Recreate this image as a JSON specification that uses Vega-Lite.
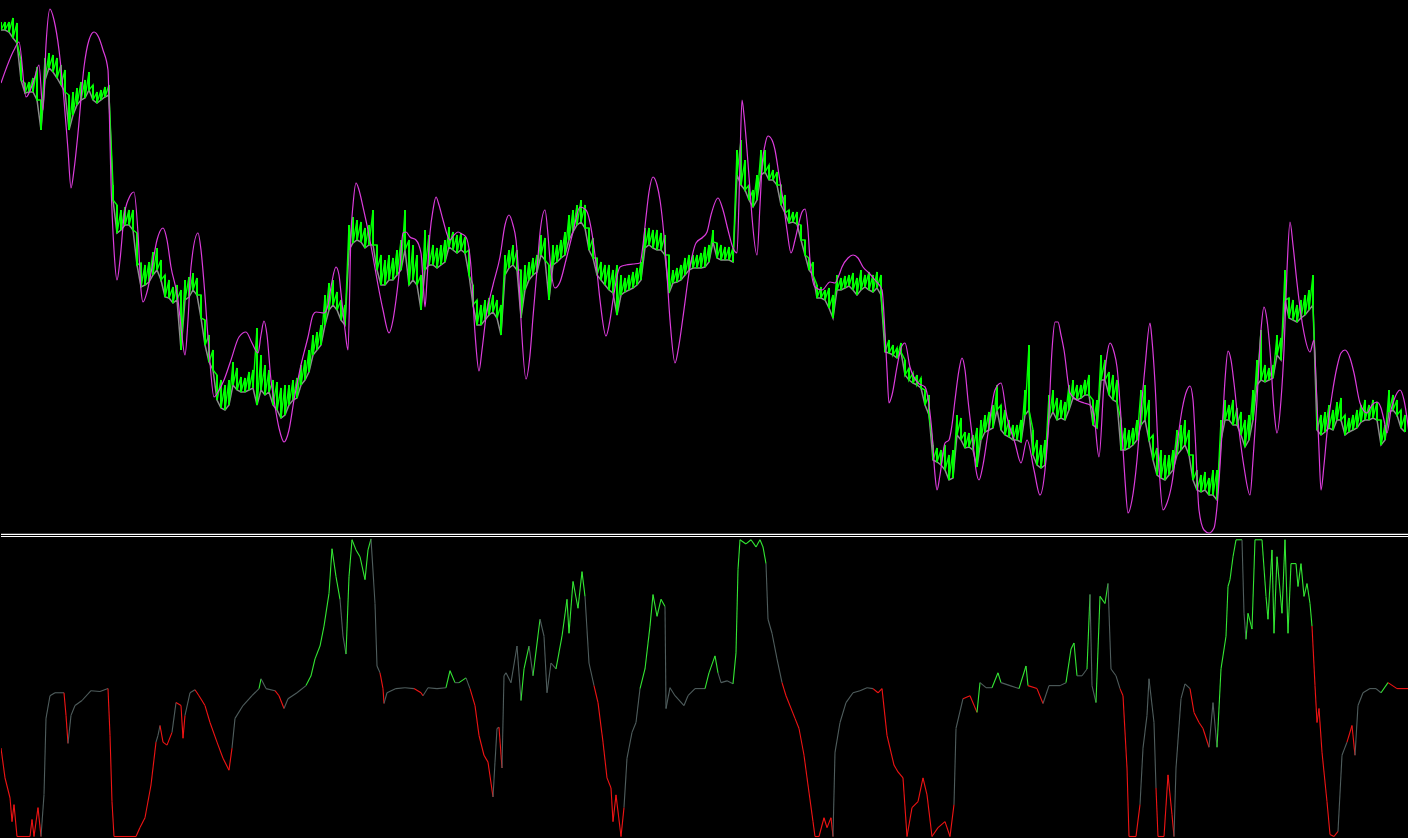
{
"$schema":"https://vega.github.io/schema/vega-lite/v6.json",
"background":"#000000",
"padding":0,
"spacing":0,
"config":{"view":{"stroke":null},"concat":{"spacing":0}},
"datasets":{
"price":[
{"t":0,"hi":516,"lo":508},{"t":4,"hi":516,"lo":508},{"t":8,"hi":516,"lo":506},{"t":12,"hi":520,"lo":500},{"t":16,"hi":515,"lo":495},{"t":20,"hi":478,"lo":458},{"t":24,"hi":455,"lo":445},{"t":28,"hi":456,"lo":446},{"t":32,"hi":460,"lo":446},{"t":36,"hi":471,"lo":438},{"t":40,"hi":438,"lo":408},{"t":44,"hi":480,"lo":458},{"t":48,"hi":485,"lo":470},{"t":52,"hi":483,"lo":466},{"t":56,"hi":480,"lo":460},{"t":60,"hi":473,"lo":453},{"t":64,"hi":468,"lo":446},{"t":68,"hi":443,"lo":408},{"t":72,"hi":446,"lo":423},{"t":76,"hi":450,"lo":433},{"t":80,"hi":456,"lo":438},{"t":84,"hi":458,"lo":440},{"t":88,"hi":466,"lo":448},{"t":92,"hi":453,"lo":438},{"t":96,"hi":446,"lo":435},{"t":100,"hi":448,"lo":438},{"t":104,"hi":451,"lo":441},{"t":108,"hi":453,"lo":443},
{"t":112,"hi":353,"lo":338},{"t":116,"hi":333,"lo":305},{"t":120,"hi":328,"lo":308},{"t":124,"hi":331,"lo":313},{"t":128,"hi":328,"lo":313},{"t":132,"hi":328,"lo":308},{"t":136,"hi":305,"lo":273},{"t":140,"hi":275,"lo":251},{"t":144,"hi":273,"lo":253},{"t":148,"hi":276,"lo":256},{"t":152,"hi":286,"lo":263},{"t":156,"hi":290,"lo":268},{"t":160,"hi":278,"lo":258},{"t":164,"hi":263,"lo":241},{"t":168,"hi":258,"lo":240},{"t":172,"hi":251,"lo":235},{"t":176,"hi":253,"lo":238},{"t":180,"hi":248,"lo":188},{"t":184,"hi":258,"lo":238},{"t":188,"hi":261,"lo":241},{"t":192,"hi":265,"lo":248},{"t":196,"hi":260,"lo":243},{"t":200,"hi":243,"lo":220},{"t":204,"hi":218,"lo":193},{"t":208,"hi":203,"lo":176},{"t":212,"hi":188,"lo":168},{"t":216,"hi":163,"lo":138},{"t":220,"hi":158,"lo":130},{"t":224,"hi":153,"lo":128},{"t":228,"hi":158,"lo":133},{"t":232,"hi":176,"lo":153},{"t":236,"hi":170,"lo":148},{"t":240,"hi":161,"lo":146},{"t":244,"hi":160,"lo":146},{"t":248,"hi":166,"lo":148},{"t":252,"hi":168,"lo":150},{"t":256,"hi":210,"lo":133},{"t":260,"hi":183,"lo":148},{"t":264,"hi":173,"lo":143},{"t":268,"hi":168,"lo":146},{"t":272,"hi":158,"lo":133},{"t":276,"hi":156,"lo":128},{"t":280,"hi":150,"lo":120},{"t":284,"hi":153,"lo":123},{"t":288,"hi":153,"lo":133},{"t":292,"hi":158,"lo":138},{"t":296,"hi":160,"lo":140},{"t":300,"hi":173,"lo":153},{"t":304,"hi":178,"lo":158},{"t":308,"hi":188,"lo":166},{"t":312,"hi":203,"lo":183},{"t":316,"hi":206,"lo":188},{"t":320,"hi":213,"lo":193},{"t":324,"hi":243,"lo":213},{"t":328,"hi":255,"lo":228},{"t":332,"hi":258,"lo":233},{"t":336,"hi":246,"lo":228},{"t":340,"hi":238,"lo":218},{"t":344,"hi":233,"lo":213},
{"t":348,"hi":313,"lo":288},{"t":352,"hi":321,"lo":295},{"t":356,"hi":318,"lo":298},{"t":360,"hi":316,"lo":296},{"t":364,"hi":310,"lo":290},{"t":368,"hi":313,"lo":293},{"t":372,"hi":328,"lo":293},{"t":376,"hi":293,"lo":268},{"t":380,"hi":283,"lo":253},{"t":384,"hi":278,"lo":253},{"t":388,"hi":283,"lo":258},{"t":392,"hi":280,"lo":258},{"t":396,"hi":288,"lo":263},{"t":400,"hi":298,"lo":268},{"t":404,"hi":328,"lo":288},{"t":408,"hi":298,"lo":253},{"t":412,"hi":293,"lo":258},{"t":416,"hi":283,"lo":253},{"t":420,"hi":263,"lo":228},{"t":424,"hi":308,"lo":268},{"t":428,"hi":303,"lo":273},{"t":432,"hi":293,"lo":273},{"t":436,"hi":290,"lo":270},{"t":440,"hi":293,"lo":273},{"t":444,"hi":298,"lo":276},{"t":448,"hi":311,"lo":291},{"t":452,"hi":306,"lo":288},{"t":456,"hi":303,"lo":285},{"t":460,"hi":305,"lo":288},{"t":464,"hi":301,"lo":285},{"t":468,"hi":288,"lo":263},{"t":472,"hi":253,"lo":233},{"t":476,"hi":238,"lo":213},{"t":480,"hi":233,"lo":213},{"t":484,"hi":238,"lo":218},{"t":488,"hi":240,"lo":223},{"t":492,"hi":243,"lo":226},{"t":496,"hi":238,"lo":220},{"t":500,"hi":233,"lo":203},{"t":504,"hi":283,"lo":263},{"t":508,"hi":288,"lo":270},{"t":512,"hi":293,"lo":273},{"t":516,"hi":288,"lo":268},{"t":520,"hi":268,"lo":220},{"t":524,"hi":273,"lo":248},{"t":528,"hi":276,"lo":258},{"t":532,"hi":280,"lo":263},{"t":536,"hi":283,"lo":266},{"t":540,"hi":303,"lo":283},{"t":544,"hi":300,"lo":278},{"t":548,"hi":273,"lo":238},{"t":552,"hi":293,"lo":273},{"t":556,"hi":293,"lo":276},{"t":560,"hi":298,"lo":280},{"t":564,"hi":306,"lo":283},{"t":568,"hi":323,"lo":298},{"t":572,"hi":328,"lo":306},{"t":576,"hi":333,"lo":313},{"t":580,"hi":338,"lo":316},{"t":584,"hi":333,"lo":310},{"t":588,"hi":310,"lo":288},{"t":592,"hi":300,"lo":280},{"t":596,"hi":280,"lo":263},{"t":600,"hi":276,"lo":258},{"t":604,"hi":273,"lo":253},{"t":608,"hi":273,"lo":248},{"t":612,"hi":268,"lo":245},{"t":616,"hi":273,"lo":223},{"t":620,"hi":263,"lo":243},{"t":624,"hi":260,"lo":246},{"t":628,"hi":263,"lo":248},{"t":632,"hi":266,"lo":250},{"t":636,"hi":270,"lo":253},{"t":640,"hi":276,"lo":258},{"t":644,"hi":310,"lo":290},{"t":648,"hi":310,"lo":293},{"t":652,"hi":308,"lo":290},{"t":656,"hi":308,"lo":288},{"t":660,"hi":305,"lo":288},{"t":664,"hi":303,"lo":283},{"t":668,"hi":283,"lo":245},{"t":672,"hi":268,"lo":255},{"t":676,"hi":270,"lo":256},{"t":680,"hi":273,"lo":258},{"t":684,"hi":280,"lo":263},{"t":688,"hi":283,"lo":268},{"t":692,"hi":283,"lo":270},{"t":696,"hi":283,"lo":270},{"t":700,"hi":285,"lo":270},
{"t":704,"hi":291,"lo":271},{"t":708,"hi":293,"lo":276},{"t":712,"hi":308,"lo":296},{"t":716,"hi":295,"lo":280},{"t":720,"hi":293,"lo":278},{"t":724,"hi":291,"lo":278},{"t":728,"hi":291,"lo":278},{"t":732,"hi":290,"lo":276},{"t":736,"hi":388,"lo":363},{"t":740,"hi":398,"lo":353},{"t":744,"hi":378,"lo":348},{"t":748,"hi":353,"lo":338},{"t":752,"hi":348,"lo":331},{"t":756,"hi":363,"lo":338},{"t":760,"hi":388,"lo":363},{"t":764,"hi":388,"lo":366},{"t":768,"hi":373,"lo":358},{"t":772,"hi":368,"lo":358},{"t":776,"hi":366,"lo":353},{"t":780,"hi":353,"lo":333},{"t":784,"hi":343,"lo":325},{"t":788,"hi":328,"lo":315},{"t":792,"hi":326,"lo":316},{"t":796,"hi":326,"lo":314},{"t":800,"hi":313,"lo":298},{"t":804,"hi":298,"lo":283},{"t":808,"hi":280,"lo":268},{"t":812,"hi":276,"lo":263},{"t":816,"hi":253,"lo":240},{"t":820,"hi":251,"lo":240},{"t":824,"hi":248,"lo":238},{"t":828,"hi":250,"lo":230},{"t":832,"hi":243,"lo":220},{"t":836,"hi":263,"lo":248},{"t":840,"hi":260,"lo":248},{"t":844,"hi":262,"lo":250},{"t":848,"hi":263,"lo":252},{"t":852,"hi":265,"lo":248},{"t":856,"hi":260,"lo":243},{"t":860,"hi":268,"lo":248},{"t":864,"hi":263,"lo":251},{"t":868,"hi":266,"lo":248},{"t":872,"hi":263,"lo":246},{"t":876,"hi":266,"lo":250},{"t":880,"hi":263,"lo":243},{"t":884,"hi":198,"lo":186},{"t":888,"hi":198,"lo":185},{"t":892,"hi":193,"lo":183},{"t":896,"hi":190,"lo":180},{"t":900,"hi":195,"lo":186},{"t":904,"hi":178,"lo":163},{"t":908,"hi":170,"lo":158},{"t":912,"hi":165,"lo":155},{"t":916,"hi":163,"lo":153},{"t":920,"hi":160,"lo":150},{"t":924,"hi":148,"lo":133},{"t":928,"hi":143,"lo":123},{"t":932,"hi":93,"lo":78},{"t":936,"hi":90,"lo":76},{"t":940,"hi":88,"lo":73},{"t":944,"hi":93,"lo":68},{"t":948,"hi":83,"lo":58},{"t":952,"hi":88,"lo":60},{"t":956,"hi":123,"lo":103},{"t":960,"hi":120,"lo":98},{"t":964,"hi":106,"lo":90},{"t":968,"hi":105,"lo":91},{"t":972,"hi":103,"lo":88},{"t":976,"hi":110,"lo":71},{"t":980,"hi":118,"lo":98},{"t":984,"hi":123,"lo":106},{"t":988,"hi":126,"lo":108},{"t":992,"hi":133,"lo":110},{"t":996,"hi":153,"lo":128},{"t":1000,"hi":133,"lo":108},{"t":1004,"hi":128,"lo":103},{"t":1008,"hi":118,"lo":101},{"t":1012,"hi":113,"lo":98},{"t":1016,"hi":113,"lo":98},{"t":1020,"hi":118,"lo":96},{"t":1024,"hi":148,"lo":123},{"t":1028,"hi":193,"lo":128},{"t":1032,"hi":108,"lo":83},{"t":1036,"hi":98,"lo":73},{"t":1040,"hi":93,"lo":70},{"t":1044,"hi":98,"lo":73},{"t":1048,"hi":143,"lo":118},{"t":1052,"hi":148,"lo":126},
{"t":1056,"hi":140,"lo":118},{"t":1060,"hi":138,"lo":120},{"t":1064,"hi":136,"lo":118},{"t":1068,"hi":153,"lo":128},{"t":1072,"hi":158,"lo":140},{"t":1076,"hi":153,"lo":138},{"t":1080,"hi":153,"lo":140},{"t":1084,"hi":158,"lo":143},{"t":1088,"hi":163,"lo":143},{"t":1092,"hi":138,"lo":113},{"t":1096,"hi":138,"lo":110},{"t":1100,"hi":183,"lo":158},{"t":1104,"hi":178,"lo":158},{"t":1108,"hi":166,"lo":143},{"t":1112,"hi":163,"lo":138},{"t":1116,"hi":158,"lo":136},{"t":1120,"hi":118,"lo":88},{"t":1124,"hi":110,"lo":88},{"t":1128,"hi":108,"lo":90},{"t":1132,"hi":110,"lo":93},{"t":1136,"hi":118,"lo":98},{"t":1140,"hi":148,"lo":113},{"t":1144,"hi":153,"lo":118},{"t":1148,"hi":138,"lo":98},{"t":1152,"hi":103,"lo":78},{"t":1156,"hi":90,"lo":63},{"t":1160,"hi":88,"lo":60},{"t":1164,"hi":83,"lo":58},{"t":1168,"hi":83,"lo":63},{"t":1172,"hi":88,"lo":68},{"t":1176,"hi":108,"lo":83},{"t":1180,"hi":113,"lo":88},{"t":1184,"hi":118,"lo":93},{"t":1188,"hi":108,"lo":83},{"t":1192,"hi":83,"lo":58},{"t":1196,"hi":68,"lo":48},{"t":1200,"hi":63,"lo":46},{"t":1204,"hi":66,"lo":48},{"t":1208,"hi":60,"lo":43},{"t":1212,"hi":68,"lo":43},{"t":1216,"hi":68,"lo":38},{"t":1220,"hi":118,"lo":98},{"t":1224,"hi":138,"lo":118},{"t":1228,"hi":133,"lo":118},{"t":1232,"hi":138,"lo":113},{"t":1236,"hi":130,"lo":113},{"t":1240,"hi":126,"lo":103},{"t":1244,"hi":118,"lo":91},{"t":1248,"hi":123,"lo":98},{"t":1252,"hi":148,"lo":118},{"t":1256,"hi":178,"lo":153},{"t":1260,"hi":208,"lo":158},{"t":1264,"hi":173,"lo":156},{"t":1268,"hi":170,"lo":158},{"t":1272,"hi":173,"lo":160},{"t":1276,"hi":203,"lo":183},{"t":1280,"hi":200,"lo":178},{"t":1284,"hi":268,"lo":238},{"t":1288,"hi":240,"lo":220},{"t":1292,"hi":238,"lo":218},{"t":1296,"hi":233,"lo":216},{"t":1300,"hi":238,"lo":220},{"t":1304,"hi":243,"lo":223},{"t":1308,"hi":248,"lo":228},{"t":1312,"hi":263,"lo":233},{"t":1316,"hi":128,"lo":108},{"t":1320,"hi":123,"lo":103},{"t":1324,"hi":126,"lo":106},{"t":1328,"hi":133,"lo":110},{"t":1332,"hi":128,"lo":108},{"t":1336,"hi":136,"lo":118},{"t":1340,"hi":140,"lo":118},{"t":1344,"hi":123,"lo":103},{"t":1348,"hi":120,"lo":106},{"t":1352,"hi":123,"lo":108},{"t":1356,"hi":128,"lo":110},{"t":1360,"hi":133,"lo":116},{"t":1364,"hi":138,"lo":118},{"t":1368,"hi":133,"lo":118},{"t":1372,"hi":138,"lo":120},{"t":1376,"hi":136,"lo":118},{"t":1380,"hi":118,"lo":93},{"t":1384,"hi":113,"lo":98},{"t":1388,"hi":148,"lo":126},{"t":1392,"hi":143,"lo":128},{"t":1396,"hi":138,"lo":123},{"t":1400,"hi":128,"lo":110},{"t":1404,"hi":123,"lo":106}
],
"mag":[
{"t":0,"m":455},{"t":13,"m":488},{"t":18,"m":496},{"t":25,"m":441},{"t":33,"m":458},{"t":38,"m":473},{"t":42,"m":428},{"t":45,"m":493},{"t":49,"m":529},{"t":53,"m":518},{"t":58,"m":488},{"t":63,"m":438},{"t":67,"m":388},{"t":70,"m":350},{"t":73,"m":368},{"t":77,"m":405},{"t":83,"m":471},{"t":88,"m":498},{"t":93,"m":506},{"t":98,"m":500},{"t":102,"m":488},{"t":107,"m":468},{"t":108,"m":438},{"t":110,"m":355},{"t":113,"m":288},{"t":116,"m":258},{"t":119,"m":278},{"t":123,"m":321},{"t":128,"m":340},{"t":133,"m":346},{"t":137,"m":305},{"t":140,"m":248},{"t":142,"m":236},{"t":146,"m":246},{"t":150,"m":265},{"t":156,"m":298},{"t":162,"m":310},{"t":166,"m":298},{"t":170,"m":271},{"t":177,"m":238},{"t":180,"m":211},{"t":184,"m":183},{"t":187,"m":218},{"t":190,"m":271},{"t":197,"m":305},{"t":200,"m":288},{"t":203,"m":255},{"t":208,"m":188},{"t":213,"m":141},{"t":217,"m":146},{"t":223,"m":158},{"t":230,"m":178},{"t":238,"m":201},{"t":245,"m":206},{"t":251,"m":195},{"t":257,"m":185},{"t":260,"m":203},{"t":263,"m":217},{"t":266,"m":203},{"t":270,"m":158},{"t":273,"m":138},{"t":278,"m":110},{"t":283,"m":96},{"t":288,"m":108},{"t":293,"m":138},{"t":300,"m":173},{"t":307,"m":201},{"t":312,"m":223},{"t":315,"m":226},{"t":323,"m":225},{"t":327,"m":233},{"t":330,"m":251},{"t":335,"m":271},{"t":338,"m":263},{"t":340,"m":245},{"t":344,"m":208},{"t":347,"m":188},{"t":350,"m":305},{"t":352,"m":333},{"t":355,"m":355},{"t":358,"m":348},{"t":362,"m":331},{"t":367,"m":308},{"t":372,"m":281},{"t":377,"m":253},{"t":382,"m":228},{"t":388,"m":205},{"t":392,"m":218},{"t":395,"m":238},{"t":399,"m":273},{"t":402,"m":305},{"t":405,"m":306},{"t":409,"m":301},{"t":415,"m":298},{"t":420,"m":285},{"t":422,"m":258},{"t":424,"m":231},{"t":426,"m":258},{"t":429,"m":305},{"t":432,"m":328},{"t":435,"m":341},{"t":438,"m":333},{"t":442,"m":318},{"t":449,"m":298},{"t":453,"m":303},{"t":457,"m":306},{"t":461,"m":304},{"t":465,"m":301},{"t":470,"m":271},{"t":474,"m":205},{"t":478,"m":167},{"t":481,"m":188},{"t":485,"m":221},{"t":492,"m":253},{"t":499,"m":281},{"t":504,"m":313},{"t":508,"m":323},{"t":512,"m":313},{"t":515,"m":298},{"t":518,"m":258},{"t":520,"m":218},{"t":525,"m":159},{"t":529,"m":183},{"t":532,"m":221},{"t":536,"m":268},{"t":539,"m":305},{"t":544,"m":328},{"t":547,"m":303},{"t":549,"m":278},{"t":554,"m":250},{"t":559,"m":256},{"t":565,"m":278},{"t":572,"m":306},{"t":579,"m":331},{"t":585,"m":328},{"t":592,"m":298},{"t":596,"m":266},{"t":599,"m":238},{"t":605,"m":202},{"t":609,"m":218},{"t":612,"m":238},{"t":619,"m":271},{"t":625,"m":273},{"t":632,"m":274},{"t":639,"m":275},{"t":642,"m":293},{"t":645,"m":321},{"t":648,"m":346},{"t":652,"m":361},{"t":656,"m":353},{"t":659,"m":338},{"t":665,"m":278},{"t":669,"m":218},{"t":674,"m":175},{"t":678,"m":193},{"t":682,"m":221},{"t":689,"m":271},{"t":695,"m":295},{"t":702,"m":301},{"t":706,"m":306},{"t":710,"m":323},{"t":717,"m":340},{"t":722,"m":328},{"t":727,"m":308},{"t":732,"m":290},{"t":736,"m":285},{"t":738,"m":338},{"t":739,"m":378},{"t":741,"m":438},{"t":743,"m":423},{"t":746,"m":388},{"t":749,"m":348},{"t":751,"m":321},{"t":756,"m":283},{"t":759,"m":333},{"t":761,"m":371},{"t":764,"m":393},{"t":767,"m":402},{"t":771,"m":398},{"t":774,"m":388},{"t":778,"m":363},{"t":782,"m":338},{"t":786,"m":308},{"t":790,"m":285},{"t":794,"m":298},{"t":797,"m":311},{"t":801,"m":326},{"t":804,"m":329},{"t":807,"m":308},{"t":809,"m":278},{"t":814,"m":251},{"t":821,"m":248},{"t":829,"m":256},{"t":834,"m":255},{"t":838,"m":263},{"t":841,"m":271},{"t":847,"m":280},{"t":852,"m":283},{"t":857,"m":280},{"t":862,"m":271},{"t":868,"m":265},{"t":874,"m":258},{"t":881,"m":248},{"t":884,"m":205},{"t":886,"m":168},{"t":888,"m":135},{"t":891,"m":143},{"t":896,"m":171},{"t":900,"m":190},{"t":904,"m":195},{"t":909,"m":171},{"t":917,"m":155},{"t":924,"m":151},{"t":928,"m":133},{"t":931,"m":105},{"t":934,"m":63},{"t":936,"m":48},{"t":939,"m":63},{"t":944,"m":95},{"t":948,"m":98},{"t":951,"m":113},{"t":954,"m":138},{"t":958,"m":168},{"t":961,"m":180},{"t":964,"m":168},{"t":967,"m":138},{"t":972,"m":95},{"t":975,"m":68},{"t":978,"m":58},{"t":982,"m":73},{"t":987,"m":105},{"t":994,"m":148},{"t":1000,"m":155},{"t":1006,"m":121},{"t":1014,"m":95},{"t":1020,"m":75},{"t":1026,"m":98},{"t":1033,"m":68},{"t":1039,"m":43},{"t":1044,"m":68},{"t":1047,"m":105},{"t":1051,"m":188},{"t":1054,"m":216},{"t":1057,"m":216},{"t":1060,"m":203},{"t":1063,"m":188},{"t":1069,"m":145},{"t":1076,"m":138},{"t":1083,"m":135},{"t":1089,"m":133},{"t":1093,"m":123},{"t":1098,"m":81},{"t":1103,"m":155},{"t":1106,"m":183},{"t":1109,"m":195},{"t":1113,"m":186},{"t":1116,"m":171},{"t":1121,"m":105},{"t":1124,"m":58},{"t":1127,"m":25},{"t":1131,"m":38},{"t":1136,"m":78},{"t":1140,"m":128},{"t":1144,"m":171},{"t":1149,"m":215},{"t":1151,"m":198},{"t":1154,"m":155},{"t":1158,"m":71},{"t":1162,"m":28},{"t":1166,"m":35},{"t":1171,"m":55},{"t":1176,"m":93},{"t":1181,"m":128},{"t":1186,"m":148},{"t":1189,"m":152},{"t":1192,"m":138},{"t":1194,"m":105},{"t":1198,"m":28},{"t":1203,"m":8},{"t":1208,"m":5},{"t":1213,"m":10},{"t":1216,"m":31},{"t":1221,"m":105},{"t":1224,"m":158},{"t":1227,"m":187},{"t":1230,"m":178},{"t":1233,"m":155},{"t":1238,"m":108},{"t":1243,"m":71},{"t":1249,"m":43},{"t":1252,"m":78},{"t":1256,"m":138},{"t":1260,"m":208},{"t":1263,"m":231},{"t":1266,"m":218},{"t":1269,"m":188},{"t":1273,"m":128},{"t":1276,"m":105},{"t":1280,"m":138},{"t":1283,"m":188},{"t":1286,"m":268},{"t":1289,"m":316},{"t":1292,"m":293},{"t":1296,"m":255},{"t":1300,"m":223},{"t":1303,"m":205},{"t":1309,"m":186},{"t":1313,"m":198},{"t":1315,"m":158},{"t":1318,"m":88},{"t":1320,"m":48},{"t":1323,"m":73},{"t":1326,"m":105},{"t":1331,"m":143},{"t":1336,"m":171},{"t":1340,"m":185},{"t":1344,"m":188},{"t":1349,"m":180},{"t":1353,"m":165},{"t":1359,"m":135},{"t":1366,"m":125},{"t":1371,"m":133},{"t":1376,"m":136},{"t":1380,"m":130},{"t":1383,"m":118},{"t":1386,"m":105},{"t":1390,"m":128},{"t":1393,"m":138},{"t":1396,"m":145},{"t":1399,"m":148},{"t":1403,"m":138},{"t":1408,"m":105}
],
"osc":[
{"t":0,"k":29.7,"c":"D"},{"t":4,"k":19.7,"c":"D"},{"t":9,"k":13,"c":"D"},{"t":11,"k":5,"c":"D"},{"t":13,"k":10.7,"c":"D"},{"t":16,"k":0,"c":"D"},{"t":29,"k":0,"c":"D"},{"t":31,"k":5.7,"c":"D"},{"t":33,"k":0,"c":"D"},{"t":37,"k":9.7,"c":"D"},{"t":40,"k":0,"c":"N"},{"t":43,"k":14,"c":"N"},{"t":45,"k":39.7,"c":"N"},{"t":49,"k":47.3,"c":"N"},{"t":54,"k":48.3,"c":"N"},{"t":63,"k":48.3,"c":"D"},{"t":65,"k":40.7,"c":"D"},{"t":67,"k":31.3,"c":"N"},{"t":70,"k":40.7,"c":"N"},{"t":74,"k":44,"c":"N"},{"t":81,"k":45.7,"c":"N"},{"t":90,"k":49,"c":"N"},{"t":99,"k":48.7,"c":"N"},{"t":107,"k":49.7,"c":"D"},{"t":109,"k":34,"c":"D"},{"t":111,"k":11.7,"c":"D"},{"t":113,"k":0,"c":"D"},{"t":135,"k":0,"c":"D"},{"t":139,"k":3,"c":"D"},{"t":144,"k":6.3,"c":"D"},{"t":150,"k":17.3,"c":"D"},{"t":155,"k":31.7,"c":"N"},{"t":157,"k":34,"c":"N"},{"t":159,"k":37.3,"c":"D"},{"t":162,"k":31.7,"c":"D"},{"t":166,"k":30.7,"c":"D"},{"t":171,"k":35,"c":"N"},{"t":175,"k":45,"c":"D"},{"t":180,"k":44,"c":"D"},{"t":182,"k":33,"c":"D"},{"t":184,"k":40.7,"c":"N"},{"t":189,"k":48.3,"c":"N"},{"t":194,"k":49.3,"c":"D"},{"t":198,"k":47.3,"c":"D"},{"t":204,"k":44,"c":"D"},{"t":209,"k":38.3,"c":"D"},{"t":216,"k":31.7,"c":"D"},{"t":222,"k":26.3,"c":"D"},{"t":228,"k":22.3,"c":"D"},{"t":231,"k":29.7,"c":"N"},{"t":234,"k":39.7,"c":"N"},{"t":242,"k":44,"c":"N"},{"t":251,"k":47.3,"c":"N"},{"t":258,"k":49.7,"c":"U"},{"t":260,"k":53,"c":"N"},{"t":265,"k":49.7,"c":"N"},{"t":274,"k":49,"c":"D"},{"t":278,"k":47.3,"c":"D"},{"t":283,"k":43,"c":"N"},{"t":287,"k":46.3,"c":"N"},{"t":296,"k":48.3,"c":"N"},{"t":305,"k":50.7,"c":"U"},{"t":310,"k":54,"c":"U"},{"t":314,"k":59.7,"c":"U"},{"t":319,"k":64,"c":"U"},{"t":323,"k":70.7,"c":"U"},{"t":328,"k":81.7,"c":"U"},{"t":331,"k":96.7,"c":"U"},{"t":335,"k":87.3,"c":"U"},{"t":339,"k":79.7,"c":"N"},{"t":342,"k":67.3,"c":"N"},{"t":345,"k":61.3,"c":"U"},{"t":348,"k":87.3,"c":"U"},{"t":351,"k":99.7,"c":"U"},{"t":355,"k":96.3,"c":"U"},{"t":359,"k":94,"c":"U"},{"t":364,"k":86.3,"c":"U"},{"t":367,"k":96.3,"c":"U"},{"t":370,"k":100,"c":"N"},{"t":374,"k":78.3,"c":"N"},{"t":376,"k":57.3,"c":"N"},{"t":379,"k":55,"c":"D"},{"t":382,"k":49.7,"c":"D"},{"t":383,"k":44.7,"c":"N"},{"t":386,"k":48.3,"c":"N"},{"t":395,"k":49.7,"c":"N"},{"t":404,"k":50,"c":"N"},{"t":413,"k":49.7,"c":"D"},{"t":420,"k":48.3,"c":"D"},{"t":422,"k":47.3,"c":"N"},{"t":427,"k":50,"c":"N"},{"t":436,"k":49.7,"c":"N"},{"t":445,"k":50,"c":"U"},{"t":449,"k":55.7,"c":"U"},{"t":454,"k":51.7,"c":"N"},{"t":458,"k":51.7,"c":"U"},{"t":465,"k":53.3,"c":"N"},{"t":469,"k":49.7,"c":"D"},{"t":474,"k":44,"c":"D"},{"t":478,"k":34,"c":"D"},{"t":483,"k":27.3,"c":"D"},{"t":487,"k":25,"c":"D"},{"t":492,"k":13.3,"c":"N"},{"t":494,"k":25,"c":"N"},{"t":496,"k":36.3,"c":"N"},{"t":498,"k":36.7,"c":"D"},{"t":501,"k":23,"c":"N"},{"t":503,"k":54,"c":"N"},{"t":505,"k":55,"c":"N"},{"t":510,"k":51.7,"c":"N"},{"t":516,"k":64,"c":"N"},{"t":520,"k":45.7,"c":"U"},{"t":523,"k":56.3,"c":"U"},{"t":528,"k":64,"c":"N"},{"t":532,"k":54,"c":"U"},{"t":539,"k":73,"c":"N"},{"t":543,"k":67.3,"c":"N"},{"t":546,"k":48.3,"c":"N"},{"t":550,"k":58.3,"c":"N"},{"t":555,"k":56.3,"c":"U"},{"t":561,"k":67.3,"c":"U"},{"t":566,"k":79.7,"c":"U"},{"t":568,"k":68.3,"c":"U"},{"t":572,"k":85.7,"c":"U"},{"t":577,"k":76.7,"c":"U"},{"t":581,"k":89,"c":"U"},{"t":584,"k":80.7,"c":"N"},{"t":588,"k":58.3,"c":"N"},{"t":593,"k":50.7,"c":"D"},{"t":597,"k":45,"c":"D"},{"t":602,"k":31.7,"c":"D"},{"t":606,"k":19.7,"c":"D"},{"t":610,"k":16.3,"c":"D"},{"t":612,"k":5,"c":"D"},{"t":615,"k":14,"c":"D"},{"t":620,"k":0,"c":"D"},{"t":623,"k":9.7,"c":"N"},{"t":626,"k":26.3,"c":"N"},{"t":631,"k":35,"c":"N"},{"t":635,"k":38.3,"c":"N"},{"t":639,"k":49.7,"c":"U"},{"t":644,"k":56.3,"c":"U"},{"t":649,"k":70.7,"c":"U"},{"t":652,"k":81.3,"c":"U"},{"t":656,"k":74,"c":"U"},{"t":660,"k":79.7,"c":"U"},{"t":664,"k":77.3,"c":"N"},{"t":665,"k":43,"c":"N"},{"t":669,"k":50,"c":"N"},{"t":674,"k":47.3,"c":"N"},{"t":683,"k":44,"c":"N"},{"t":687,"k":47.3,"c":"N"},{"t":694,"k":49.7,"c":"N"},{"t":700,"k":49.7,"c":"N"},
{"t":704,"k":49.7,"c":"U"},{"t":708,"k":55,"c":"U"},{"t":714,"k":60.7,"c":"U"},{"t":717,"k":55,"c":"N"},{"t":720,"k":51.7,"c":"N"},{"t":726,"k":52.3,"c":"N"},{"t":732,"k":51.3,"c":"U"},{"t":735,"k":61.7,"c":"U"},{"t":737,"k":89.7,"c":"U"},{"t":739,"k":99.7,"c":"U"},{"t":745,"k":98.3,"c":"U"},{"t":750,"k":99.7,"c":"U"},{"t":755,"k":97.3,"c":"U"},{"t":759,"k":99.7,"c":"U"},{"t":762,"k":97.3,"c":"U"},{"t":765,"k":91.7,"c":"N"},{"t":767,"k":73,"c":"N"},{"t":771,"k":68.3,"c":"N"},{"t":776,"k":59.7,"c":"N"},{"t":781,"k":51.7,"c":"D"},{"t":785,"k":47.3,"c":"D"},{"t":794,"k":39.7,"c":"D"},{"t":798,"k":36.3,"c":"D"},{"t":803,"k":27.3,"c":"D"},{"t":807,"k":17.3,"c":"D"},{"t":812,"k":5,"c":"D"},{"t":814,"k":0,"c":"D"},{"t":818,"k":0,"c":"D"},{"t":823,"k":6.3,"c":"D"},{"t":826,"k":3,"c":"D"},{"t":830,"k":6.3,"c":"D"},{"t":832,"k":0,"c":"N"},{"t":834,"k":28.3,"c":"N"},{"t":839,"k":38.3,"c":"N"},{"t":845,"k":45,"c":"N"},{"t":852,"k":48.3,"c":"N"},{"t":859,"k":49,"c":"N"},{"t":866,"k":50,"c":"N"},{"t":872,"k":49.7,"c":"D"},{"t":877,"k":48.3,"c":"D"},{"t":881,"k":49.7,"c":"D"},{"t":886,"k":34,"c":"D"},{"t":893,"k":24,"c":"D"},{"t":897,"k":21.7,"c":"D"},{"t":902,"k":19.7,"c":"D"},{"t":906,"k":0,"c":"D"},{"t":911,"k":9.7,"c":"D"},{"t":917,"k":11.7,"c":"D"},{"t":922,"k":19.7,"c":"D"},{"t":926,"k":14,"c":"D"},{"t":931,"k":0,"c":"D"},{"t":937,"k":3,"c":"D"},{"t":944,"k":5,"c":"D"},{"t":949,"k":0,"c":"D"},{"t":953,"k":10.7,"c":"N"},{"t":955,"k":36.3,"c":"N"},{"t":962,"k":46.3,"c":"D"},{"t":969,"k":47.3,"c":"D"},{"t":976,"k":41.7,"c":"U"},{"t":979,"k":51.7,"c":"N"},{"t":985,"k":50,"c":"N"},{"t":991,"k":50,"c":"U"},{"t":997,"k":55,"c":"U"},{"t":1000,"k":51.7,"c":"N"},{"t":1009,"k":50.7,"c":"N"},{"t":1018,"k":49.7,"c":"U"},{"t":1025,"k":57.3,"c":"U"},{"t":1027,"k":50.7,"c":"D"},{"t":1036,"k":49.7,"c":"D"},{"t":1042,"k":44.7,"c":"N"},{"t":1048,"k":50.7,"c":"N"},{"t":1059,"k":50.7,"c":"N"},{"t":1065,"k":51.7,"c":"U"},{"t":1070,"k":63,"c":"U"},{"t":1073,"k":65,"c":"U"},{"t":1076,"k":54,"c":"N"},{"t":1081,"k":54,"c":"N"},{"t":1086,"k":56.3,"c":"U"},{"t":1089,"k":81.3,"c":"N"},{"t":1091,"k":50.7,"c":"N"},{"t":1095,"k":45,"c":"U"},{"t":1099,"k":80.7,"c":"U"},{"t":1104,"k":78.3,"c":"U"},{"t":1107,"k":85,"c":"N"},{"t":1110,"k":56.3,"c":"N"},{"t":1115,"k":54,"c":"N"},{"t":1119,"k":49.7,"c":"D"},{"t":1122,"k":47.3,"c":"D"},{"t":1126,"k":23,"c":"D"},{"t":1128,"k":0,"c":"D"},{"t":1135,"k":0,"c":"D"},{"t":1139,"k":10.7,"c":"N"},{"t":1142,"k":29.7,"c":"N"},{"t":1146,"k":40.7,"c":"N"},{"t":1148,"k":53,"c":"N"},{"t":1153,"k":38.3,"c":"N"},{"t":1155,"k":16.3,"c":"D"},{"t":1157,"k":0,"c":"D"},{"t":1163,"k":0,"c":"D"},{"t":1167,"k":20.7,"c":"D"},{"t":1171,"k":7.3,"c":"D"},{"t":1173,"k":0,"c":"N"},{"t":1175,"k":23,"c":"N"},{"t":1180,"k":46.3,"c":"N"},{"t":1184,"k":51.3,"c":"N"},{"t":1189,"k":49.7,"c":"D"},{"t":1193,"k":41.7,"c":"D"},{"t":1198,"k":38.3,"c":"D"},{"t":1202,"k":36.3,"c":"D"},{"t":1208,"k":30,"c":"N"},{"t":1212,"k":45,"c":"N"},{"t":1216,"k":30,"c":"U"},{"t":1220,"k":56.3,"c":"U"},{"t":1225,"k":67.3,"c":"U"},{"t":1227,"k":84,"c":"U"},{"t":1229,"k":86.3,"c":"U"},{"t":1232,"k":94,"c":"U"},{"t":1235,"k":99.7,"c":"U"},{"t":1241,"k":99.7,"c":"N"},{"t":1243,"k":75,"c":"N"},{"t":1245,"k":66.3,"c":"U"},{"t":1247,"k":75,"c":"U"},{"t":1251,"k":69.7,"c":"U"},{"t":1254,"k":99.7,"c":"U"},{"t":1261,"k":99.7,"c":"U"},{"t":1265,"k":80.7,"c":"U"},{"t":1267,"k":73,"c":"U"},{"t":1271,"k":96.3,"c":"U"},{"t":1273,"k":68.3,"c":"U"},{"t":1276,"k":94,"c":"U"},{"t":1281,"k":75,"c":"U"},{"t":1284,"k":99.7,"c":"U"},{"t":1287,"k":68.3,"c":"U"},{"t":1290,"k":91.7,"c":"U"},{"t":1295,"k":91.7,"c":"U"},{"t":1297,"k":84,"c":"U"},{"t":1300,"k":91.7,"c":"U"},{"t":1303,"k":80.7,"c":"U"},{"t":1306,"k":85,"c":"U"},{"t":1309,"k":78.3,"c":"U"},{"t":1311,"k":70.7,"c":"D"},{"t":1314,"k":50.7,"c":"D"},{"t":1316,"k":38.3,"c":"D"},{"t":1318,"k":43,"c":"D"},{"t":1321,"k":28.3,"c":"D"},{"t":1326,"k":11.7,"c":"D"},{"t":1329,"k":0.7,"c":"D"},{"t":1333,"k":0,"c":"D"},{"t":1337,"k":1.7,"c":"N"},{"t":1341,"k":27.3,"c":"N"},{"t":1346,"k":31.7,"c":"D"},{"t":1351,"k":37.3,"c":"D"},{"t":1354,"k":27.3,"c":"N"},{"t":1357,"k":44,"c":"N"},{"t":1362,"k":48.3,"c":"N"},{"t":1369,"k":49.7,"c":"N"},{"t":1375,"k":49.7,"c":"N"},{"t":1380,"k":48.3,"c":"U"},{"t":1387,"k":51.7,"c":"D"},{"t":1396,"k":49.7,"c":"D"},{"t":1402,"k":49.7,"c":"D"},{"t":1408,"k":49.7,"c":"D"}
]
},
"vconcat":[
{
"width":1408,"height":538,
"layer":[
{"data":{"name":"price"},
 "mark":{"type":"line","color":"#8c8c8c","strokeWidth":1.5,"clip":true},
 "encoding":{
  "x":{"field":"t","type":"quantitative","scale":{"domain":[0,1408],"nice":false,"zero":false},"axis":null},
  "y":{"field":"lo","type":"quantitative","scale":{"domain":[0,538],"nice":false,"zero":false},"axis":null}}},
{"data":{"name":"price"},
 "mark":{"type":"rule","color":"#00ff00","strokeWidth":2,"clip":true},
 "encoding":{
  "x":{"field":"t","type":"quantitative"},
  "y":{"field":"lo","type":"quantitative"},
  "y2":{"field":"hi"}}},
{"data":{"name":"price"},
 "transform":[{"fold":["hi","lo"],"as":["side","v"]}],
 "mark":{"type":"line","color":"#00ff00","strokeWidth":1.4,"clip":true},
 "encoding":{
  "x":{"field":"t","type":"quantitative"},
  "y":{"field":"v","type":"quantitative"},
  "order":[{"field":"t","type":"quantitative"},{"field":"side","type":"nominal"}]}},
{"data":{"name":"mag"},
 "mark":{"type":"line","color":"#dc3cdc","strokeWidth":1.2,"interpolate":"monotone","clip":true},
 "encoding":{
  "x":{"field":"t","type":"quantitative"},
  "y":{"field":"m","type":"quantitative"}}},
{"data":{"values":[{"level":3.7},{"level":1.5}]},
 "mark":{"type":"rule","color":"#ffffff","strokeWidth":1.2},
 "encoding":{"y":{"field":"level","type":"quantitative"}}}
]
},
{
"width":1408,"height":300,
"data":{"name":"osc"},
"transform":[
 {"window":[{"op":"lead","field":"t","as":"t2"},{"op":"lead","field":"k","as":"k2"}],"sort":[{"field":"t","order":"ascending"}]},
 {"filter":"datum.t2 != null"}
],
"mark":{"type":"rule","strokeWidth":1.1,"clip":true},
"encoding":{
 "x":{"field":"t","type":"quantitative","scale":{"domain":[0,1408],"nice":false,"zero":false},"axis":null},
 "x2":{"field":"t2"},
 "y":{"field":"k","type":"quantitative","scale":{"domain":[-0.5,100.3],"nice":false,"zero":false},"axis":null},
 "y2":{"field":"k2"},
 "color":{"field":"c","type":"nominal","scale":{"domain":["U","N","D"],"range":["#33e633","#4f5d5d","#f01414"]},"legend":null}
}
}
]
}
